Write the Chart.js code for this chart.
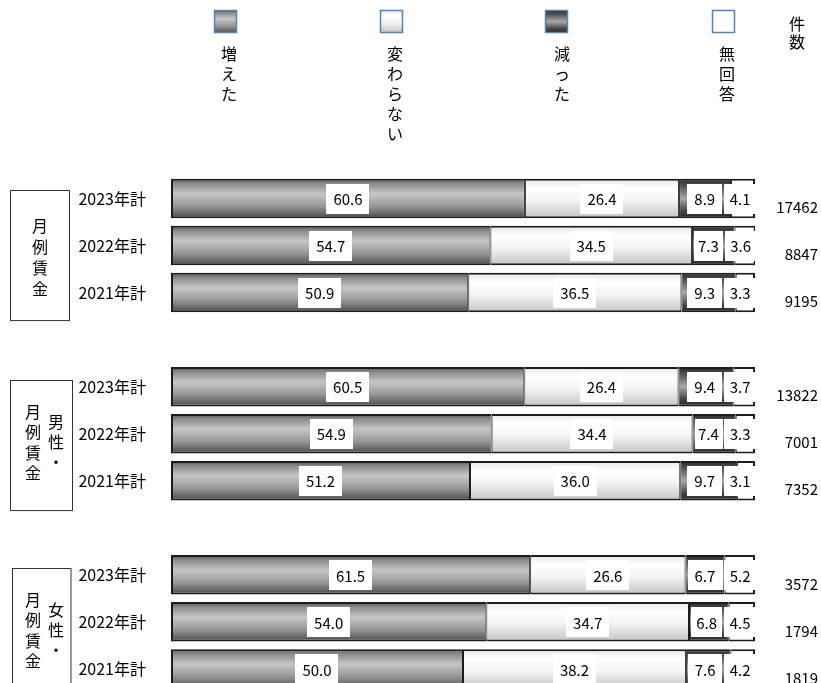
<!DOCTYPE html>
<html lang="ja">
<head>
  <meta charset="UTF-8" />
  <title>月例賃金の増減</title>
  <script src="https://cdn.jsdelivr.net/npm/chart.js"></script>
  <style>
    html, body { margin: 0; padding: 0; background: #fff; overflow: hidden; }
    canvas { display: block; }
  </style>
</head>
<body>
  <canvas id="chartChingin" width="821" height="727"></canvas>

  <script>
    // 年次ごとの回答割合（%）。空欄はグループ間の区切り
    const categories = ['2023年計', '2022年計', '2021年計', '',
                        '2023年計', '2022年計', '2021年計', '',
                        '2023年計', '2022年計', '2021年計'];
    const seriesNames = ['増えた', '変わらない', '減った', '無回答'];
    const fueta      = [60.6, 54.7, 50.9, null, 60.5, 54.9, 51.2, null, 61.5, 54.0, 50.0];
    const kawaranai  = [26.4, 34.5, 36.5, null, 26.4, 34.4, 36.0, null, 26.6, 34.7, 38.2];
    const hetta      = [8.9, 7.3, 9.3, null, 9.4, 7.4, 9.7, null, 6.7, 6.8, 7.6];
    const mukaito    = [4.1, 3.6, 3.3, null, 3.7, 3.3, 3.1, null, 5.2, 4.5, 4.2];
    const kensu      = [17462, 8847, 9195, null, 13822, 7001, 7352, null, 3572, 1794, 1819];
    const groupTitles = [['月例賃金'], ['月例賃金', '男性・'], ['月例賃金', '女性・']];

    const FONT = "'Noto Sans CJK JP', 'Noto Sans', sans-serif";
    const BAR_PCT = 0.84;

    // 縦グラデーションの色
    const stops = [
      [[0, '#505050'], [0.12, '#8a8a8a'], [0.38, '#c6c6c6'], [0.7, '#969696'], [1, '#4a4a4a']],
      [[0, '#e6e6e6'], [0.25, '#ffffff'], [0.55, '#f4f4f4'], [1, '#c4c4c4']],
      [[0, '#2a2a2a'], [0.2, '#555555'], [0.5, '#a8a8a8'], [0.8, '#4a4a4a'], [1, '#222222']],
      [[0, '#ffffff'], [1, '#ffffff']]
    ];

    function vGrad(ctx, top, bottom, st) {
      const g = ctx.createLinearGradient(0, top, 0, bottom);
      st.forEach(([o, c]) => g.addColorStop(o, c));
      return g;
    }

    function barFill(st) {
      return c => {
        const chart = c.chart;
        const y = chart.scales && chart.scales.y;
        if (!chart.chartArea || !y || c.dataIndex == null) return st[1][1];
        const center = y.getPixelForValue(c.dataIndex);
        const half = (y.getPixelForValue(1) - y.getPixelForValue(0)) * BAR_PCT / 2;
        return vGrad(chart.ctx, center - half, center + half, st);
      };
    }

    const borders = [
      { top: 2, bottom: 2, left: 2, right: 1 },
      { top: 2, bottom: 2, left: 1, right: 1 },
      { top: 2, bottom: 2, left: 1, right: 1 },
      { top: 2, bottom: 2, left: 1, right: 2 }
    ];

    function drawVertical(ctx, text, x, y0, step) {
      [...text].forEach((ch, i) => ctx.fillText(ch, x, y0 + i * step));
    }

    function labelBox(ctx, txt, left, right, yc) {
      ctx.fillStyle = '#fff';
      ctx.fillRect(Math.round(left), Math.round(yc - 15), Math.round(right - left), 30);
      ctx.fillStyle = '#000';
      ctx.fillText(txt, (left + right) / 2, yc + 1);
    }

    // 凡例・値ラベル・件数・グループ枠
    const decorations = {
      id: 'decorations',
      afterDatasetsDraw(chart) {
        const ctx = chart.ctx;
        ctx.save();
        ctx.textBaseline = 'middle';
        ctx.textAlign = 'center';
        ctx.font = '15px ' + FONT;

        // 値ラベル（白い箱）。無回答は右寄せ、減ったはその左に収める
        const metas = chart.data.datasets.map((ds, di) => chart.getDatasetMeta(di).data);
        categories.forEach((cat, i) => {
          if (fueta[i] == null) return;
          const naEl = metas[3][i];
          const naTxt = mukaito[i].toFixed(1);
          const naW = ctx.measureText(naTxt).width + 10;
          const naLeft = naEl.x - naW;
          [fueta, kawaranai, hetta].forEach((vals, di) => {
            const el = metas[di][i];
            const txt = vals[i].toFixed(1);
            const w = ctx.measureText(txt).width + 14;
            const cx = (el.x + el.base) / 2;
            let l = cx - w / 2, r = cx + w / 2;
            if (di === 2) {
              if (r > naLeft - 2) { r = naLeft - 2; l = r - w; }
              l = Math.max(l, el.base + 2);
            }
            labelBox(ctx, txt, l, r, el.y);
          });
          labelBox(ctx, naTxt, naLeft, naEl.x + 1, naEl.y);
        });

        // 件数
        ctx.textAlign = 'right';
        const y = chart.scales.y;
        kensu.forEach((n, i) => {
          if (n == null) return;
          ctx.fillText(String(n), 818, y.getPixelForValue(i) + 9);
        });

        // 凡例
        const legendX = [[214, 229], [380, 395], [545, 562], [712, 727]];
        ctx.textAlign = 'center';
        ctx.font = '16px ' + FONT;
        seriesNames.forEach((name, i) => {
          const [sx, tx] = legendX[i];
          ctx.fillStyle = vGrad(ctx, 10, 33, stops[i]);
          ctx.fillRect(sx, 10, 23, 23);
          ctx.strokeStyle = '#5a82b4';
          ctx.lineWidth = 1.5;
          ctx.strokeRect(sx + 0.5, 10.5, 22, 22);
          ctx.fillStyle = '#000';
          drawVertical(ctx, name, tx, 54, 20);
        });
        drawVertical(ctx, '件数', 797, 24, 18);

        // 左側のグループ枠
        const frames = [
          { l: 10.5, r: 69.5, top: y.getPixelForValue(0) - 9, bottom: y.getPixelForValue(2) + 27 },
          { l: 10.5, r: 72.5, top: y.getPixelForValue(4) - 7, bottom: y.getPixelForValue(6) + 29 },
          { l: 12.5, r: 71, top: y.getPixelForValue(8) - 7, bottom: y.getPixelForValue(10) + 29 }
        ];
        ctx.strokeStyle = '#333';
        ctx.lineWidth = 1;
        frames.forEach((f, gi) => {
          ctx.strokeRect(f.l, Math.round(f.top) + 0.5, f.r - f.l, f.bottom - f.top);
          const cols = groupTitles[gi];
          if (cols.length === 1) {
            drawVertical(ctx, cols[0], (f.l + f.r) / 2, f.top + 36, 21);
          } else {
            drawVertical(ctx, cols[0], 33, f.top + 32, 20.5);
            drawVertical(ctx, cols[1], 56, f.top + 42, 20);
          }
        });
        ctx.restore();
      }
    };

    const valueSets = [fueta, kawaranai, hetta, mukaito];

    new Chart(document.getElementById('chartChingin'), {
      type: 'bar',
      data: {
        labels: categories,
        datasets: valueSets.map((vals, i) => ({
          label: seriesNames[i],
          data: vals,
          backgroundColor: barFill(stops[i]),
          borderColor: '#1c1c1c',
          borderWidth: borders[i],
          borderSkipped: false,
          categoryPercentage: 1,
          barPercentage: BAR_PCT
        }))
      },
      options: {
        indexAxis: 'y',
        responsive: false,
        animation: false,
        events: [],
        layout: { padding: { top: 175, bottom: 8, left: 0, right: 66 } },
        plugins: { legend: { display: false }, tooltip: { enabled: false } },
        scales: {
          x: { stacked: true, min: 0, max: 100, display: false },
          y: {
            stacked: true,
            grid: { display: false, drawTicks: false },
            border: { display: false },
            ticks: { color: '#000', padding: 25, font: { family: FONT, size: 16 } },
            afterFit(scale) { scale.width = 171; }
          }
        }
      },
      plugins: [decorations]
    });
  </script>
</body>
</html>
